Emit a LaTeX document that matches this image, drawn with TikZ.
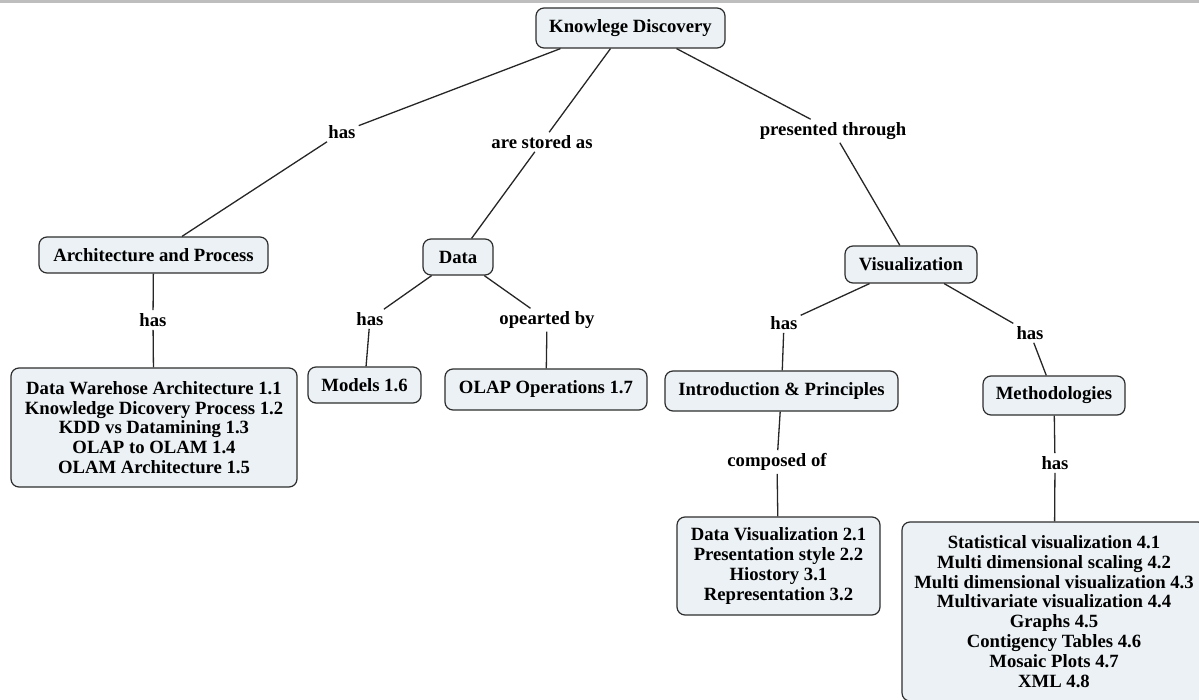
\documentclass[tikz,border=0pt]{standalone}
\usepackage{fontspec}
\setmainfont{Liberation Serif}
\definecolor{boxfill}{RGB}{235,241,244}
\definecolor{boxline}{RGB}{45,45,45}
\definecolor{topbar}{RGB}{190,190,190}
\tikzset{
  cbox/.style={draw=boxline, line width=1.2pt, rounded corners=8pt, fill=boxfill,
    align=center, inner sep=0pt, font=\bfseries\fontsize{18.7}{19.8}\selectfont},
  lbl/.style={inner sep=3pt, font=\bfseries\fontsize{18.7}{19.8}\selectfont},
  conn/.style={draw=black!85, line width=1.3pt}
}
\begin{document}
\begin{tikzpicture}[x=1pt,y=-1pt]
\useasboundingbox (0,0) rectangle (1199,700);
\clip (0,0) rectangle (1199,700);
\fill[topbar] (0,0) rectangle (1199,3);

% concept boxes
\node[cbox, minimum width=189pt, minimum height=40pt] (kd) at (630.5,28) {Knowlege Discovery};
\node[cbox, minimum width=229pt, minimum height=36pt] (arch) at (153.5,255) {Architecture and Process};
\node[cbox, minimum width=70pt, minimum height=36pt] (data) at (458,257) {Data};
\node[cbox, minimum width=132pt, minimum height=37pt] (vis) at (911,264.5) {Visualization};
\node[cbox, minimum width=286pt, minimum height=119pt] (list1) at (154,427.5) {Data Warehose Architecture 1.1\\Knowledge Dicovery Process 1.2\\KDD vs Datamining 1.3\\OLAP to OLAM 1.4\\OLAM Architecture 1.5};
\node[cbox, minimum width=113pt, minimum height=36pt] (models) at (364.5,385) {Models 1.6};
\node[cbox, minimum width=202pt, minimum height=41pt] (olap) at (546,389.5) {OLAP Operations 1.7};
\node[cbox, minimum width=233pt, minimum height=40pt] (intro) at (781.5,391) {Introduction \& Principles};
\node[cbox, minimum width=142pt, minimum height=39pt] (meth) at (1054,395.5) {Methodologies};
\node[cbox, minimum width=203pt, minimum height=98pt] (list2) at (778.5,566) {Data Visualization 2.1\\Presentation style 2.2\\Hiostory 3.1\\Representation 3.2};
\node[cbox, minimum width=304pt, minimum height=179pt] (list3) at (1054,611.5) {Statistical visualization 4.1\\Multi dimensional scaling 4.2\\Multi dimensional visualization 4.3\\Multivariate visualization 4.4\\Graphs 4.5\\Contigency Tables 4.6\\Mosaic Plots 4.7\\XML 4.8};

% linking phrases
\node[lbl] (has1) at (342,132) {has};
\node[lbl] (stored) at (542,142) {are stored as};
\node[lbl] (pres) at (833,131) {presented through};
\node[lbl] (has2) at (153,320) {has};
\node[lbl] (has3) at (370,319) {has};
\node[lbl] (op) at (547,320) {opearted by};
\node[lbl] (has4) at (784,323) {has};
\node[lbl] (has5) at (1030,333) {has};
\node[lbl] (comp) at (777,462) {composed of};
\node[lbl] (has6) at (1055,463) {has};

% connectors
\draw[conn] ([xshift=-70pt]kd.south) -- (has1);
\draw[conn] (has1) -- (arch);
\draw[conn] ([xshift=-20pt]kd.south) -- (stored);
\draw[conn] (stored) -- (data);
\draw[conn] ([xshift=46pt]kd.south) -- (pres);
\draw[conn] (pres) -- (vis);
\draw[conn] (arch) -- (has2);
\draw[conn] (has2) -- (list1);
\draw[conn] (data) -- (has3);
\draw[conn] (has3) -- (models);
\draw[conn] (data) -- (op);
\draw[conn] (op) -- (olap);
\draw[conn] (vis) -- (has4);
\draw[conn] (has4) -- (intro);
\draw[conn] (vis) -- (has5);
\draw[conn] (has5) -- (meth);
\draw[conn] (intro) -- (comp);
\draw[conn] (comp) -- (list2);
\draw[conn] (meth) -- (has6);
\draw[conn] (has6) -- (list3);
\end{tikzpicture}
\end{document}
